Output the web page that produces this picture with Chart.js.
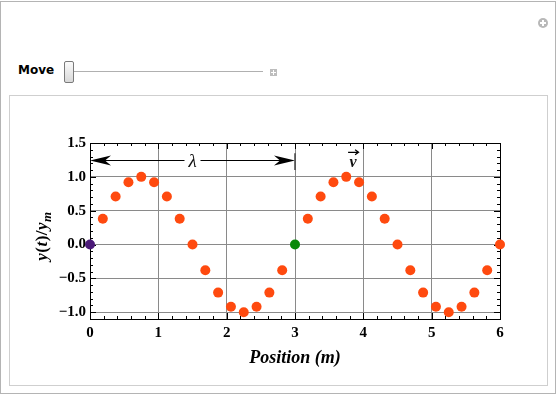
<!DOCTYPE html>
<html>
<head>
<meta charset="utf-8">
<script src="https://cdn.jsdelivr.net/npm/chart.js@4/dist/chart.umd.min.js"></script>
<style>
  body { margin: 0; background: #fff; }
  #outer { position: absolute; left: 0; top: 1px; width: 554px; height: 391px; border: 1px solid #b4b4b4; }
  #inner { position: absolute; left: 9px; top: 95px; width: 537px; height: 289px; border: 1px solid #cfcfcf; }
  #move { position: absolute; left: 18px; top: 63px; font: bold 12px "DejaVu Sans", sans-serif; color: #000; }
  #thumb { position: absolute; left: 64px; top: 61px; width: 8px; height: 20px; border: 1px solid #7a7a7a; border-radius: 2px;
           background: linear-gradient(#fbfbfb, #d8d8d8); }
  #track { position: absolute; left: 74px; top: 71px; width: 189px; height: 1px; background: #b0b0b0; }
  .plus { position: absolute; background: #bdbdbd; }
  .plus::before, .plus::after { content: ""; position: absolute; background: #fff; }
  #sq { left: 270px; top: 69px; width: 7px; height: 7px; }
  #sq::before { left: 3px; top: 1px; width: 1px; height: 5px; }
  #sq::after { left: 1px; top: 3px; width: 5px; height: 1px; }
  #circ { left: 538px; top: 18px; width: 10px; height: 10px; border-radius: 50%; background: #b8b8b8; }
  #circ::before { left: 4px; top: 2px; width: 2px; height: 6px; }
  #circ::after { left: 2px; top: 4px; width: 6px; height: 2px; }
  canvas { position: absolute; left: 10px; top: 96px; }
</style>
</head>
<body>
<div id="outer"></div>
<div id="circ" class="plus"></div>
<div id="move">Move</div>
<div id="track"></div>
<div id="thumb"></div>
<div id="sq" class="plus"></div>
<div id="inner"></div>
<canvas id="chart" width="537" height="289"></canvas>
<script>
// positions along the string (m) and the displacement y(t)/y_m
const positions = [0, 0.1875, 0.375, 0.5625, 0.75, 0.9375, 1.125, 1.3125, 1.5, 1.6875, 1.875, 2.0625, 2.25, 2.4375, 2.625, 2.8125,
                   3, 3.1875, 3.375, 3.5625, 3.75, 3.9375, 4.125, 4.3125, 4.5, 4.6875, 4.875, 5.0625, 5.25, 5.4375, 5.625, 5.8125, 6];
const displacement = [0, 0.38, 0.71, 0.92, 1, 0.92, 0.71, 0.38, 0, -0.38, -0.71, -0.92, -1, -0.92, -0.71, -0.38,
                      0, 0.38, 0.71, 0.92, 1, 0.92, 0.71, 0.38, 0, -0.38, -0.71, -0.92, -1, -0.92, -0.71, -0.38, 0];
const xTicks = [0, 1, 2, 3, 4, 5, 6];
const xTickLabels = ["0", "1", "2", "3", "4", "5", "6"];
const yTicks = [-1, -0.5, 0, 0.5, 1, 1.5];
const yTickLabels = ["\u22121.0", "\u22120.5", "0.0", "0.5", "1.0", "1.5"];
// wavelength marker and velocity label, in data units
const lambdaSpan = [0, 3];
const lambdaY = 1.25;
const velocityAt = [3.85, 1.2];

const orange = "#ff4a0f", purple = "#4b1a78", green = "#0a8a0a";
const pointColors = positions.map(x => x === 0 ? purple : (x === 3 ? green : orange));

const serif = "'Liberation Serif', 'Times New Roman', serif";

function arrowHead(ctx, tipX, y, dir) {
  // dir = -1 pointing left, +1 pointing right
  ctx.beginPath();
  ctx.moveTo(tipX, y);
  ctx.lineTo(tipX - dir * 21, y - 5);
  ctx.lineTo(tipX - dir * 15, y);
  ctx.lineTo(tipX - dir * 21, y + 5);
  ctx.closePath();
  ctx.fill();
}

const framePlugin = {
  id: "frame",
  beforeDatasetsDraw(chart) {
    const {ctx, chartArea: a, scales: {x, y}} = chart;
    ctx.save();
    ctx.strokeStyle = "#000";
    ctx.lineWidth = 1;
    // minor ticks, inward on all four sides
    ctx.beginPath();
    for (let v = 0; v <= 6.001; v += 0.2) {
      const px = Math.round(x.getPixelForValue(v)) + 0.5;
      const len = Math.abs(v - Math.round(v)) < 1e-6 ? 6 : 3;
      ctx.moveTo(px, a.bottom); ctx.lineTo(px, a.bottom - len);
      ctx.moveTo(px, a.top); ctx.lineTo(px, a.top + len);
    }
    for (let v = -1.1; v <= 1.501; v += 0.1) {
      const py = Math.round(y.getPixelForValue(v)) + 0.5;
      const len = Math.abs(v * 2 - Math.round(v * 2)) < 1e-6 ? 6 : 3;
      ctx.moveTo(a.left, py); ctx.lineTo(a.left + len, py);
      ctx.moveTo(a.right, py); ctx.lineTo(a.right - len, py);
    }
    ctx.stroke();
    ctx.strokeRect(Math.round(a.left) + 0.5, Math.round(a.top) + 0.5, Math.round(a.right - a.left), Math.round(a.bottom - a.top));

    // wavelength arrow
    const x0 = x.getPixelForValue(lambdaSpan[0]);
    const x1 = x.getPixelForValue(lambdaSpan[1]);
    const ly = Math.round(y.getPixelForValue(lambdaY)) + 0.5;
    ctx.fillStyle = "#000";
    ctx.beginPath();
    ctx.moveTo(x0 + 10, ly); ctx.lineTo(x1 - 10, ly);
    ctx.stroke();
    arrowHead(ctx, x0, ly, -1);
    arrowHead(ctx, x1, ly, 1);
    ctx.lineWidth = 1.5;
    ctx.strokeStyle = "#444";
    ctx.beginPath();
    ctx.moveTo(x1, y.getPixelForValue(1.35)); ctx.lineTo(x1, y.getPixelForValue(1.1));
    ctx.stroke();
    const lx = x.getPixelForValue((lambdaSpan[0] + lambdaSpan[1]) / 2);
    ctx.font = "italic 19px " + serif;
    ctx.fillStyle = "#fff";
    ctx.fillRect(lx - 8, ly - 9, 16, 18);
    ctx.fillStyle = "#111";
    ctx.textAlign = "center";
    ctx.textBaseline = "middle";
    ctx.fillText("\u03bb", lx, ly + 1);

    // velocity vector label
    const vx = x.getPixelForValue(velocityAt[0]);
    const vy = y.getPixelForValue(velocityAt[1]);
    ctx.font = "italic bold 16px " + serif;
    ctx.fillText("v", vx, vy);
    ctx.strokeStyle = "#000";
    ctx.lineWidth = 1.2;
    ctx.beginPath();
    ctx.moveTo(vx - 5, vy - 11); ctx.lineTo(vx + 5, vy - 11);
    ctx.moveTo(vx + 2, vy - 13.5); ctx.lineTo(vx + 5.5, vy - 11); ctx.lineTo(vx + 2, vy - 8.5);
    ctx.stroke();

    // y axis title: y(t)/y_m
    const parts = [
      ["y", "italic bold 17px "], ["(", "bold 17px "], ["t", "italic bold 17px "], [")", "bold 17px "],
      ["/", "bold 17px "], ["y", "italic bold 17px "], ["m", "italic bold 13px "]
    ];
    let total = 0;
    for (const [t, f] of parts) { ctx.font = f + serif; total += ctx.measureText(t).width + 0.5; }
    ctx.translate(32, (a.top + a.bottom) / 2 + 5);
    ctx.rotate(-Math.PI / 2);
    ctx.textAlign = "left";
    ctx.textBaseline = "alphabetic";
    ctx.fillStyle = "#000";
    let cx = -total / 2;
    for (const [t, f] of parts) {
      ctx.font = f + serif;
      ctx.fillText(t, cx, t === "m" ? 9 : 5);
      cx += ctx.measureText(t).width + 0.5;
    }
    ctx.restore();
  }
};

const tickFont = {family: serif, size: 15, weight: "bold"};

new Chart(document.getElementById("chart"), {
  type: "scatter",
  data: {
    datasets: [{
      data: positions.map((p, i) => ({x: p, y: displacement[i]})),
      pointBackgroundColor: pointColors,
      pointBorderWidth: 0,
      pointRadius: 5,
      pointHoverRadius: 5,
      clip: false
    }]
  },
  plugins: [framePlugin],
  options: {
    responsive: false,
    animation: false,
    events: [],
    layout: {padding: {left: 0, right: 47, top: 47, bottom: 16}},
    plugins: {legend: {display: false}, tooltip: {enabled: false}},
    scales: {
      x: {
        type: "linear", min: 0, max: 6,
        afterBuildTicks: s => { s.ticks = xTicks.map(v => ({value: v})); },
        afterFit: s => { s.height = 50; },
        ticks: {callback: (v, i) => xTickLabels[i], font: tickFont, color: "#000", padding: 5, maxRotation: 0, autoSkip: false},
        grid: {color: "#8a8a8a", drawTicks: false},
        border: {display: false},
        title: {display: true, text: "Position (m)", padding: 0, color: "#000",
                font: {family: serif, size: 18, style: "italic", weight: "bold"}}
      },
      y: {
        type: "linear", min: -1.1, max: 1.5,
        afterBuildTicks: s => { s.ticks = yTicks.map(v => ({value: v})); },
        afterFit: s => { s.width = 80; },
        ticks: {callback: (v, i) => yTickLabels[i], font: tickFont, color: "#000", padding: 4, autoSkip: false},
        grid: {color: "#8a8a8a", drawTicks: false},
        border: {display: false}
      }
    }
  }
});
</script>
</body>
</html>
